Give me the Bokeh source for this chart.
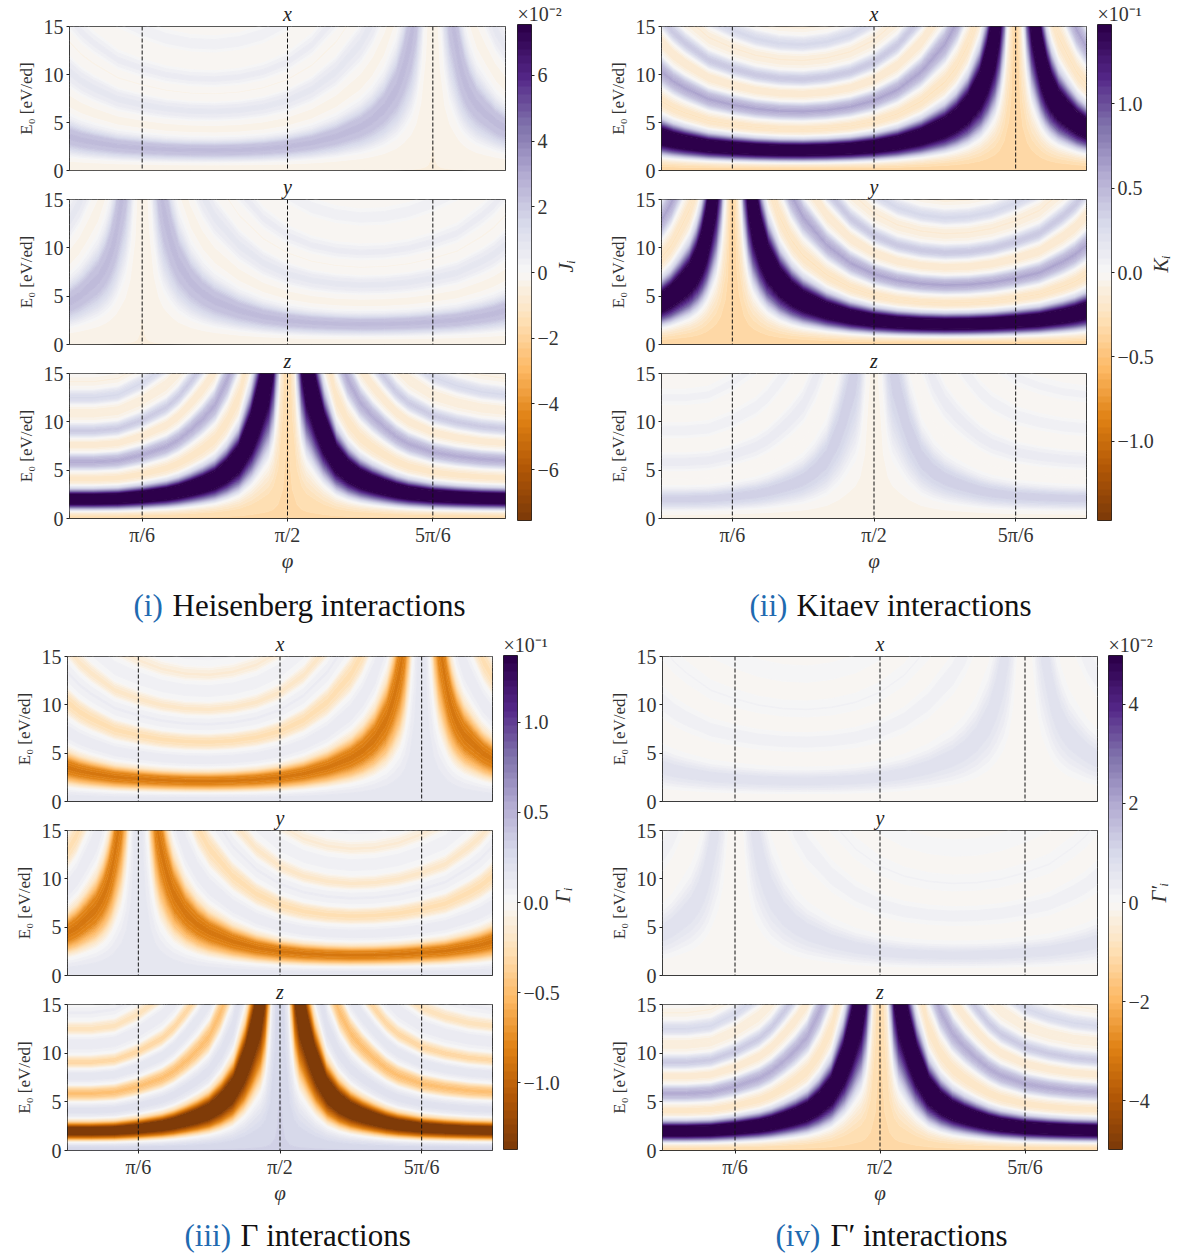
import math
from bokeh.embed import file_html
from bokeh.layouts import column, row
from bokeh.models import FixedTicker, Label, LinearColorMapper, Range1d, Span, Title
from bokeh.plotting import figure
from bokeh.resources import INLINE
import numpy as np

# ---- data ----
# profile across the rings: distance along a ring normal (E0 units at the flattest point of the main band) and level
ring_pos = [0.0, 0.3, 0.55, 0.8, 1.0, 1.25, 1.6, 2.05, 2.5, 2.8, 3.1, 3.45,
            3.6, 3.85, 4.2, 4.55, 4.85, 5.05, 5.3, 5.55, 6.0, 6.45, 6.7, 6.95,
            7.2, 7.45, 7.8, 8.15, 8.35, 8.55, 8.8, 9.0, 9.3, 9.6, 9.85, 10.15,
            10.4, 10.75, 11.2, 11.6, 11.85, 12.05, 12.3, 12.5, 12.8, 13.1, 13.4, 13.7,
            13.95, 14.2, 14.5, 14.8, 15.1, 15.4, 15.7, 16.2, 16.7, 17.1, 18.0]
ring_level = [-19, -17, -10, 0, 20, 50, 85, 100, 85, 50, 20, 1,
              -5, -10, -13, -10, -4, 0, 14, 24, 33, 24, 14, 0,
              -4, -8, -10, -8, -4, 0, 11, 18, 22, 18, 11, 0,
              -3, -6, -8, -6, -3, 0, 8, 13, 16, 13, 8, 0,
              -2, -4, -6, -4, -2, 0, 5, 12, 5, 0, -4]
# height of the main band against phi (degrees), x panel and z panel; the y panel is the mirror of x
x_phi = [0, 5, 10, 15, 20, 30, 40, 50, 60, 70, 80, 90, 100, 110, 120, 125, 130, 135, 138, 141, 143, 145, 147, 148, 149, 150, 151, 152, 153, 155, 157, 159, 161, 163, 165, 168, 172, 176, 180]
x_band = [3.6, 3.25, 3.0, 2.8, 2.6, 2.4, 2.25, 2.17, 2.15, 2.2, 2.32, 2.55, 2.95, 3.6, 4.6, 5.4, 6.6, 8.6, 10.8, 14, 18, 26, 44, 65, 130, 400, 130, 60, 40, 25, 18, 14.5, 11.5, 9.6, 8.3, 7.0, 6.0, 5.1, 4.5]
z_phi = [0, 10, 20, 30, 40, 45, 50, 55, 60, 65, 70, 75, 78, 80, 82, 84, 86, 88, 89, 90, 91, 92, 94, 96, 98, 100, 102, 105, 110, 115, 120, 125, 130, 135, 140, 150, 160, 170, 180]
z_band = [2.05, 2.05, 2.1, 2.3, 2.6, 2.85, 3.2, 3.6, 4.1, 5.0, 6.3, 9.0, 11.5, 13.5, 15.5, 20, 31, 65, 130, 400, 130, 65, 31, 20, 15.5, 13.5, 11.5, 9.0, 6.3, 5.0, 4.2, 3.7, 3.3, 2.95, 2.7, 2.4, 2.25, 2.15, 2.1]

names = ["J", "K", "G", "Gp"]
# strength of the main band per panel (x, y, z), in the units of each colour bar
strength = {"J": [2.5, 2.5, 9.0], "K": [1.85, 1.85, 0.36], "G": [-0.9, -0.9, -1.6], "Gp": [0.72, 0.72, 6.0]}
scale_max = {"J": 7.55, "K": 1.47, "G": 1.37, "Gp": 4.98}
bar_ticks = {"J": [-6, -4, -2, 0, 2, 4, 6], "K": [-1.0, -0.5, 0.0, 0.5, 1.0], "G": [-1.0, -0.5, 0.0, 0.5, 1.0], "Gp": [-4, -2, 0, 2, 4]}
bar_labels = {"J": ["\u22126", "\u22124", "\u22122", "0", "2", "4", "6"], "K": ["\u22121.0", "\u22120.5", "0.0", "0.5", "1.0"], "G": ["\u22121.0", "\u22120.5", "0.0", "0.5", "1.0"], "Gp": ["\u22124", "\u22122", "0", "2", "4"]}
bar_power = {"J": "\u00d710\u207b\u00b2", "K": "\u00d710\u207b\u00b9", "G": "\u00d710\u207b\u00b9", "Gp": "\u00d710\u207b\u00b2"}
bar_title = {"J": "J\u1d62", "K": "K\u1d62", "G": "\u0393\u1d62", "Gp": "\u0393\u2032\u1d62"}
caption_tag = {"J": "(i)", "K": "(ii)", "G": "(iii)", "Gp": "(iv)"}
caption_text = {"J": "Heisenberg interactions", "K": "Kitaev interactions", "G": "\u0393 interactions", "Gp": "\u0393\u2032 interactions"}
panel_names = ["x", "y", "z"]
phi_ticks = [30, 90, 150]
phi_tick_labels = ["\u03c0/6", "\u03c0/2", "5\u03c0/6"]
e_ticks = [0, 5, 10, 15]
e_max = 15
anchors = ["#7f3b08", "#b35806", "#e08214", "#fdb863", "#fee0b6", "#f7f7f7", "#d8daeb", "#b2abd2", "#8073ac", "#542788", "#2d004b"]

# ---- styling / layout ----
FONT = "Liberation Serif"
INK = "#333333"
rgb = np.array([[int(c[i:i + 2], 16) for i in (1, 3, 5)] for c in anchors], float)
t = np.linspace(0, 10, 64)
palette = ["#%02x%02x%02x" % tuple(int(round(np.interp(v, range(11), rgb[:, k]))) for k in range(3)) for v in t]
line_palette = palette + [palette[-1]]

layout_info = {
    "J": dict(left=69, fw=436, cb_left=7, cb_right=62, top_bar=23, bar_h=496, f1=144, f3=145, stand=4),
    "K": dict(left=68, fw=425, cb_left=6, cb_right=74, top_bar=23, bar_h=496, f1=144, f3=145, stand=4),
    "G": dict(left=67, fw=425, cb_left=6, cb_right=75, top_bar=25, bar_h=494, f1=145, f3=146, stand=0),
    "Gp": dict(left=70, fw=435, cb_left=6, cb_right=62, top_bar=25, bar_h=494, f1=145, f3=146, stand=6),
}
BOTTOM = 56


def grid(name, idx):
    phi = np.array(x_phi if idx < 2 else z_phi, float)
    band = np.array(x_band if idx < 2 else z_band, float)
    if idx == 1:
        phi, band = 180 - phi[::-1], band[::-1]
    pos = np.array(ring_pos)
    xx = np.tile(phi, (len(pos), 1))
    yy = np.outer(pos, band / 2.1)
    vmax = scale_max[name]
    zz = np.clip(np.outer(np.array(ring_level) * strength[name][idx] / 100, np.ones(len(phi))), -vmax * 0.999, vmax * 0.999)
    return xx, yy, zz


def style_axis(ax):
    ax.major_label_text_font = FONT
    ax.major_label_text_font_size = "20px"
    ax.major_label_text_color = INK
    ax.major_tick_in = 0
    ax.major_tick_out = 3
    ax.minor_tick_line_color = None
    ax.axis_line_color = None
    ax.major_tick_line_color = "#222222"


def panel(name, idx):
    info = layout_info[name]
    last = idx == 2
    fh = info["f1"] if idx == 0 else (145 if idx == 1 else info["f3"])
    p = figure(frame_width=info["fw"], frame_height=fh, output_backend="svg", toolbar_location=None,
               x_range=Range1d(0, 180), y_range=Range1d(0, e_max),
               x_axis_location="below" if last else None,
               min_border_left=info["left"], min_border_right=5,
               min_border_top=29,
               min_border_bottom=BOTTOM if last else 11, tools="",
               margin=(-3 if idx == 0 else -11, 0, 0, 0), border_fill_color=None)
    vmax = scale_max[name]
    xx, yy, zz = grid(name, idx)
    p.contour(xx, yy, zz, np.linspace(-vmax, vmax, len(palette) + 1), fill_color=palette, line_color=line_palette, line_width=1.0)
    for v in phi_ticks:
        p.add_layout(Span(location=v, dimension="height", line_color="#111111", line_dash="4 2", line_width=1))
    for edge, dim in ((0, "width"), (e_max, "width"), (0, "height"), (180, "height")):
        p.add_layout(Span(location=edge, dimension=dim, line_color="#222222", line_width=1))
    p.grid.visible = False
    p.outline_line_color = "#222222"
    p.outline_line_width = 1
    p.title = Title(text=panel_names[idx], align="center", text_font=FONT, text_font_style="italic",
                    text_font_size="20px", text_color="#222222", standoff=3, offset=0)
    p.yaxis.ticker = FixedTicker(ticks=e_ticks)
    p.yaxis.axis_label = "E\u2080 [eV/ed]"
    p.yaxis.axis_label_text_font = FONT
    p.yaxis.axis_label_text_font_style = "normal"
    p.yaxis.axis_label_text_font_size = "17px"
    p.yaxis.axis_label_text_color = INK
    p.yaxis.axis_label_standoff = 5
    style_axis(p.yaxis[0])
    p.yaxis.major_label_standoff = 3
    p.yaxis.major_label_orientation = "horizontal"
    if last:
        style_axis(p.xaxis[0])
        p.xaxis.ticker = FixedTicker(ticks=phi_ticks)
        p.xaxis.major_label_overrides = dict(zip(phi_ticks, phi_tick_labels))
        p.xaxis.axis_label = "\u03c6"
        p.xaxis.axis_label_text_font = FONT
        p.xaxis.axis_label_text_font_style = "italic"
        p.xaxis.axis_label_text_font_size = "21px"
        p.xaxis.axis_label_text_color = INK
        p.xaxis.axis_label_standoff = 0
        p.xaxis.major_label_standoff = 2
    return p


def bar(name):
    info = layout_info[name]
    vmax = scale_max[name]
    mapper = LinearColorMapper(palette=palette, low=-vmax, high=vmax)
    p = figure(frame_width=14, frame_height=info["bar_h"], output_backend="svg", toolbar_location=None,
               x_range=Range1d(0, 1), y_range=Range1d(-vmax, vmax), x_axis_location=None, y_axis_location="right",
               min_border_left=info["cb_left"], min_border_right=info["cb_right"], min_border_top=info["top_bar"],
               min_border_bottom=BOTTOM, tools="")
    p.image(image=[np.linspace(-vmax, vmax, 240).reshape(-1, 1)], x=0, y=-vmax, dw=1, dh=2 * vmax, color_mapper=mapper)
    p.grid.visible = False
    p.outline_line_color = "#222222"
    p.title = Title(text=bar_power[name], align="left", text_font=FONT, text_font_style="normal",
                    text_font_size="20px", text_color=INK, standoff=0, offset=0)
    ax = p.yaxis[0]
    style_axis(ax)
    ax.ticker = FixedTicker(ticks=bar_ticks[name])
    ax.major_label_overrides = dict(zip(bar_ticks[name], bar_labels[name]))
    ax.major_label_standoff = 3
    ax.axis_label = bar_title[name]
    ax.axis_label_text_font = FONT
    ax.axis_label_text_font_style = "italic"
    ax.axis_label_text_font_size = "21px"
    ax.axis_label_text_color = INK
    ax.axis_label_standoff = info["stand"]
    ax.axis_label_orientation = math.pi / 2
    return p


def group(name):
    return [column(panel(name, 0), panel(name, 1), panel(name, 2), spacing=0), bar(name)]


def captions(left, right, y_base, top, height):
    p = figure(frame_width=1190, frame_height=height, output_backend="svg", toolbar_location=None,
               x_range=Range1d(0, 1190), y_range=Range1d(top + height, top), x_axis_location=None, y_axis_location=None,
               min_border=0, tools="", outline_line_color=None, border_fill_color=None, background_fill_color=None)
    p.grid.visible = False
    for name, xt, xm in (left, right):
        p.add_layout(Label(x=xt, y=y_base, text=caption_tag[name], text_font=FONT, text_font_size="31px",
                           text_color="#1f6ab0", text_baseline="alphabetic"))
        p.add_layout(Label(x=xm, y=y_base, text=caption_text[name], text_font=FONT, text_font_size="31px",
                           text_color="#111111", text_baseline="alphabetic"))
    return p


page = column(
    row(*group("J"), *group("K"), spacing=0),
    captions(("J", 133, 172), ("K", 749, 796), 604, 575, 54),
    row(*group("G"), *group("Gp"), spacing=0),
    captions(("G", 184, 240), ("Gp", 775, 830), 1233, 1205, 51),
    spacing=0,
)
open("out.html", "w").write(file_html(page, INLINE))
